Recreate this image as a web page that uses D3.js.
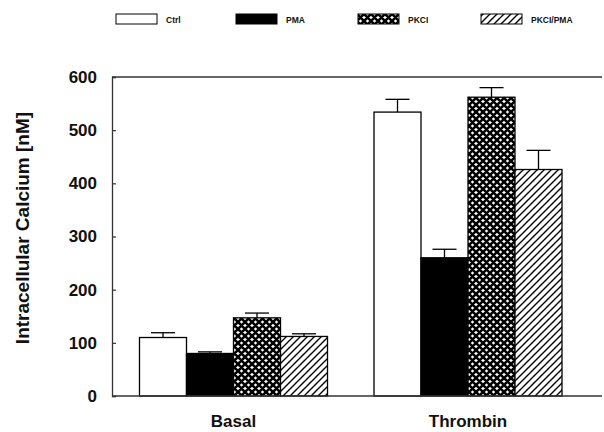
<!DOCTYPE html>
<html><head><meta charset="utf-8">
<script src="https://cdn.jsdelivr.net/npm/d3@7"></script>
<style>body{margin:0;background:#fff}svg{display:block}text{font-family:"Liberation Sans",Arial,sans-serif;fill:#111}</style>
</head><body>
<svg id="c" width="604" height="432"></svg>
<script>
const groups = ["Basal", "Thrombin"];
const series = ["Ctrl", "PMA", "PKCI", "PKCI/PMA"];
const values = {
  "Ctrl":     [110, 534],
  "PMA":      [80, 260],
  "PKCI":     [147, 562],
  "PKCI/PMA": [112, 426]
};
const errors = {
  "Ctrl":     [9, 24],
  "PMA":      [3, 16],
  "PKCI":     [9, 18],
  "PKCI/PMA": [5, 36]
};
const yTicks = [0, 100, 200, 300, 400, 500, 600];

(function(){
const svg = d3.select("#c");
const defs = svg.append("defs");
const P = 7;
const cross = defs.append("pattern").attr("id","cross").attr("patternUnits","userSpaceOnUse")
  .attr("width",P).attr("height",P);
cross.append("rect").attr("width",P).attr("height",P).attr("fill","#fff");
cross.append("path").attr("d",`M-1,1 L1,-1 M0,${P} L${P},0 M${P-1},${P+1} L${P+1},${P-1} M-1,${P-1} L1,${P+1} M0,0 L${P},${P} M${P-1},-1 L${P+1},1`)
  .attr("stroke","#000").attr("stroke-width",2.6);
const hatch = defs.append("pattern").attr("id","hatch").attr("patternUnits","userSpaceOnUse")
  .attr("width",P).attr("height",P);
hatch.append("rect").attr("width",P).attr("height",P).attr("fill","#fff");
hatch.append("path").attr("d",`M-1,1 L1,-1 M0,${P} L${P},0 M${P-1},${P+1} L${P+1},${P-1}`)
  .attr("stroke","#000").attr("stroke-width",1.4);

const fills = {"Ctrl":"#fff","PMA":"#000","PKCI":"url(#cross)","PKCI/PMA":"url(#hatch)"};

const pl = 112, pr = 602, pt = 77, pb = 396;
const y = d3.scaleLinear().domain([0, 600]).range([pb, pt]);
const x0 = d3.scalePoint().domain(groups).range([233.5, 468]);
const x1 = d3.scaleBand().domain(series).range([-94, 94]).padding(0);

svg.append("line").attr("x1",pl).attr("x2",pr).attr("y1",pt).attr("y2",pt)
  .attr("stroke","#333").attr("stroke-width",1.3);

groups.forEach((g, gi) => {
  series.forEach(s => {
    const v = values[s][gi], e = errors[s][gi];
    const bx = x0(g) + x1(s), bw = x1.bandwidth(), cx = bx + bw/2;
    svg.append("line").attr("x1",cx).attr("x2",cx).attr("y1",y(v)).attr("y2",y(v+e))
      .attr("stroke","#000").attr("stroke-width",1.3);
    svg.append("line").attr("x1",cx-12).attr("x2",cx+12).attr("y1",y(v+e)).attr("y2",y(v+e))
      .attr("stroke","#000").attr("stroke-width",1.3);
    svg.append("rect").attr("x",bx).attr("y",y(v)).attr("width",bw).attr("height",pb-y(v))
      .attr("fill",fills[s]).attr("stroke","#000").attr("stroke-width",1.3);
  });
});

const yAxis = svg.append("g").attr("transform",`translate(${pl},0)`)
  .call(d3.axisLeft(y).tickValues(yTicks).tickSize(-4).tickPadding(15));
yAxis.select(".domain").attr("stroke","#333").attr("stroke-width",1.3);
yAxis.selectAll(".tick line").attr("stroke","#333").attr("stroke-width",1.2);
yAxis.selectAll(".tick text").attr("font-size",17).attr("font-weight","bold")
  .attr("font-family","'Liberation Sans',Arial,sans-serif").attr("fill","#111");

svg.append("line").attr("x1",pl).attr("x2",pr).attr("y1",pb).attr("y2",pb)
  .attr("stroke","#333").attr("stroke-width",1.3);

groups.forEach(g => {
  svg.append("text").attr("x",x0(g)).attr("y",427).attr("text-anchor","middle")
    .attr("font-size",17).attr("font-weight","bold").text(g);
});

svg.append("text").attr("transform","translate(29,228) rotate(-90)").attr("text-anchor","middle")
  .attr("font-size",19).attr("font-weight","bold").text("Intracellular Calcium [nM]");

const legX = [116, 236, 358, 481];
series.forEach((s, i) => {
  svg.append("rect").attr("x",legX[i]).attr("y",14).attr("width",41).attr("height",10)
    .attr("fill",fills[s]).attr("stroke","#000").attr("stroke-width",1);
  svg.append("text").attr("x",legX[i]+50).attr("y",23).attr("font-size",8.5).attr("font-weight","bold").text(s);
});
})();
</script>
</body></html>
